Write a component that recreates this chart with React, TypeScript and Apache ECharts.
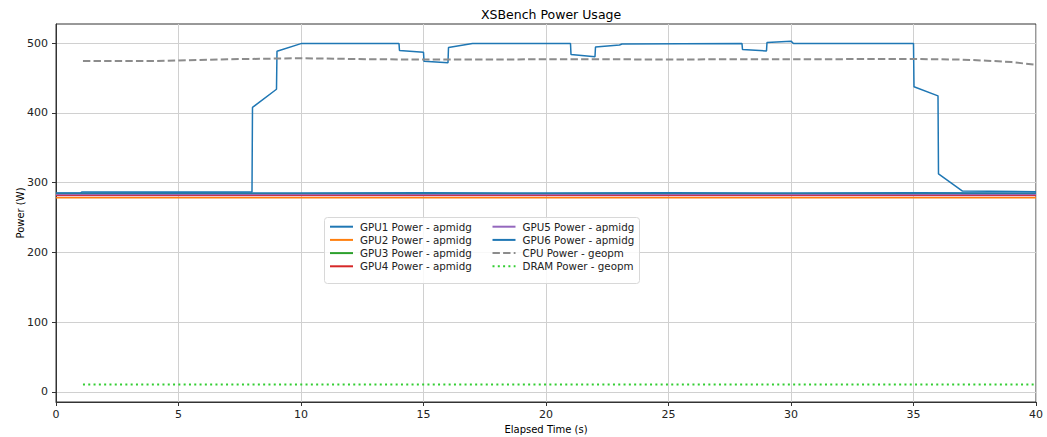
import React, { useEffect, useRef } from "react";
import * as echarts from "echarts";

// GPU1 samples (time in s, power in W)
const gpu1Time = [0, 1, 1.05, 8, 8.02, 9, 9.02, 10, 14, 14.02, 15, 15.02, 16, 16.02, 17, 21, 21.02, 22, 22.02, 23, 23.1, 28, 28.02, 29, 29.02, 30, 30.1, 35, 35.02, 36, 36.02, 37, 40];
const gpu1Power = [285, 285, 286.5, 286.5, 408, 434, 488.5, 499.5, 499.5, 489.5, 487, 474, 472, 494, 499.5, 499.5, 484, 480.5, 494.5, 497.5, 499, 499.5, 491, 489, 501, 503, 499.5, 499.5, 437.5, 424.5, 312.5, 288, 287];

// Remaining GPUs share one sampling grid
const gpuTime = [0, 1, 5, 10, 15, 20, 25, 30, 35, 40];
const gpu2Power = [278.3, 278.3, 278.5, 278.4, 278.5, 278.4, 278.5, 278.4, 278.3, 278.4];
const gpu3Power = [284.2, 284.2, 284.3, 284.2, 284.3, 284.2, 284.3, 284.2, 284.3, 284.2];
const gpu4Power = [281.6, 281.6, 281.8, 281.7, 281.8, 281.7, 281.8, 281.7, 281.6, 281.7];
const gpu5Power = [283.0, 283.0, 283.1, 283.0, 283.1, 283.0, 283.1, 283.0, 283.1, 283.0];
const gpu6Power = [285.2, 285.2, 285.4, 285.3, 285.4, 285.3, 285.4, 285.3, 285.4, 285.3];

// Host-side measurements
const cpuTime = [1.1, 4, 7, 10, 13, 16, 20, 25, 30, 35, 37, 38, 39, 40];
const cpuPower = [474.7, 474.5, 477, 478.5, 477, 476.5, 477, 476.8, 477, 477.5, 476.5, 475, 473, 469];
const dramTime = [1.1, 10, 20, 30, 40];
const dramPower = [10.5, 10.5, 10.5, 10.5, 10.5];

const yTicks = [0, 100, 200, 300, 400, 500];

const pairs = (t: number[], v: number[]) => t.map((x, i) => [x, v[i]]);

const FONT = "DejaVu Sans";

export default function App() {
  const ref = useRef<HTMLDivElement>(null);

  useEffect(() => {
    document.body.style.margin = "0";
    const chart = echarts.init(ref.current!, null, { renderer: "svg" });

    const line = (name: string, t: number[], v: number[], color: string, width: number, type: any = "solid") => ({
      name,
      type: "line",
      data: pairs(t, v),
      symbol: "none",
      showSymbol: false,
      color,
      lineStyle: { color, width, type },
      emphasis: { disabled: true },
    });

    const legendCommon = {
      orient: "vertical",
      padding: 0,
      itemWidth: 23,
      itemHeight: 12,
      itemGap: 3.2,
      itemStyle: { opacity: 0 },
      textStyle: { fontFamily: FONT, fontSize: 10.3, color: "#222", padding: [0, 0, 0, 2] },
      selectedMode: false,
    };

    chart.setOption({
      animation: false,
      backgroundColor: "#fff",
      title: {
        text: "XSBench Power Usage",
        left: 476,
        top: 3,
        textStyle: { fontFamily: FONT, fontSize: 12.5, fontWeight: "normal", color: "#000" },
      },
      grid: {
        left: 56,
        right: 11,
        top: 24,
        bottom: 35,
        outerBoundsMode: "none",
        show: true,
        borderColor: "#333",
        borderWidth: 1,
        backgroundColor: "transparent",
      },
      graphic: [
        {
          type: "rect",
          shape: { x: 324.5, y: 217.5, width: 315, height: 66, r: 3 },
          style: { fill: "rgba(255,255,255,0.85)", stroke: "#d8d8d8", lineWidth: 1 },
          z: 50,
        },
      ],
      legend: [
        { ...legendCommon, left: 329, top: 221.7, z: 60, data: ["GPU1 Power - apmidg", "GPU2 Power - apmidg", "GPU3 Power - apmidg", "GPU4 Power - apmidg"] },
        { ...legendCommon, left: 491.5, top: 221.7, z: 60, data: ["GPU5 Power - apmidg", "GPU6 Power - apmidg", "CPU Power - geopm", "DRAM Power - geopm"] },
      ],
      xAxis: {
        type: "value",
        min: 0,
        max: 40,
        interval: 5,
        name: "Elapsed Time (s)",
        nameLocation: "middle",
        nameGap: 22,
        nameMoveOverlap: false,
        nameTextStyle: { fontFamily: FONT, fontSize: 10, color: "#000" },
        axisLine: { show: true, onZero: false, lineStyle: { color: "#333", width: 1 } },
        axisTick: { show: true, length: 4, lineStyle: { color: "#333" } },
        axisLabel: { margin: 7, fontFamily: FONT, fontSize: 11, color: "#222" },
        splitLine: { show: true, lineStyle: { color: "#d0d0d0", width: 1 } },
      },
      yAxis: {
        type: "value",
        min: -14.6,
        max: 527.6,
        name: "Power (W)",
        nameLocation: "middle",
        nameGap: 31,
        nameMoveOverlap: false,
        nameTextStyle: { fontFamily: FONT, fontSize: 10, color: "#000" },
        axisLine: { show: true, onZero: false, lineStyle: { color: "#333", width: 1 } },
        axisTick: { show: true, length: 4, lineStyle: { color: "#333" }, customValues: yTicks },
        axisLabel: { margin: 8, fontFamily: FONT, fontSize: 11, color: "#222", customValues: yTicks },
        splitLine: { show: true, lineStyle: { color: "#d0d0d0", width: 1 } },
      },
      series: [
        line("GPU1 Power - apmidg", gpu1Time, gpu1Power, "#1f77b4", 1.5),
        line("GPU2 Power - apmidg", gpuTime, gpu2Power, "#ff7f0e", 1.5),
        line("GPU3 Power - apmidg", gpuTime, gpu3Power, "#2ca02c", 1.5),
        line("GPU4 Power - apmidg", gpuTime, gpu4Power, "#d62728", 1.5),
        line("GPU5 Power - apmidg", gpuTime, gpu5Power, "#9467bd", 1.5),
        line("GPU6 Power - apmidg", gpuTime, gpu6Power, "#1f77b4", 1.5),
        line("CPU Power - geopm", cpuTime, cpuPower, "#8c8c8c", 2, [7.4, 3.2]),
        line("DRAM Power - geopm", dramTime, dramPower, "#32cd32", 2, [2, 3.3]),
      ],
    });

    return () => chart.dispose();
  }, []);

  return <div ref={ref} style={{ width: 1047, height: 437 }} />;
}
